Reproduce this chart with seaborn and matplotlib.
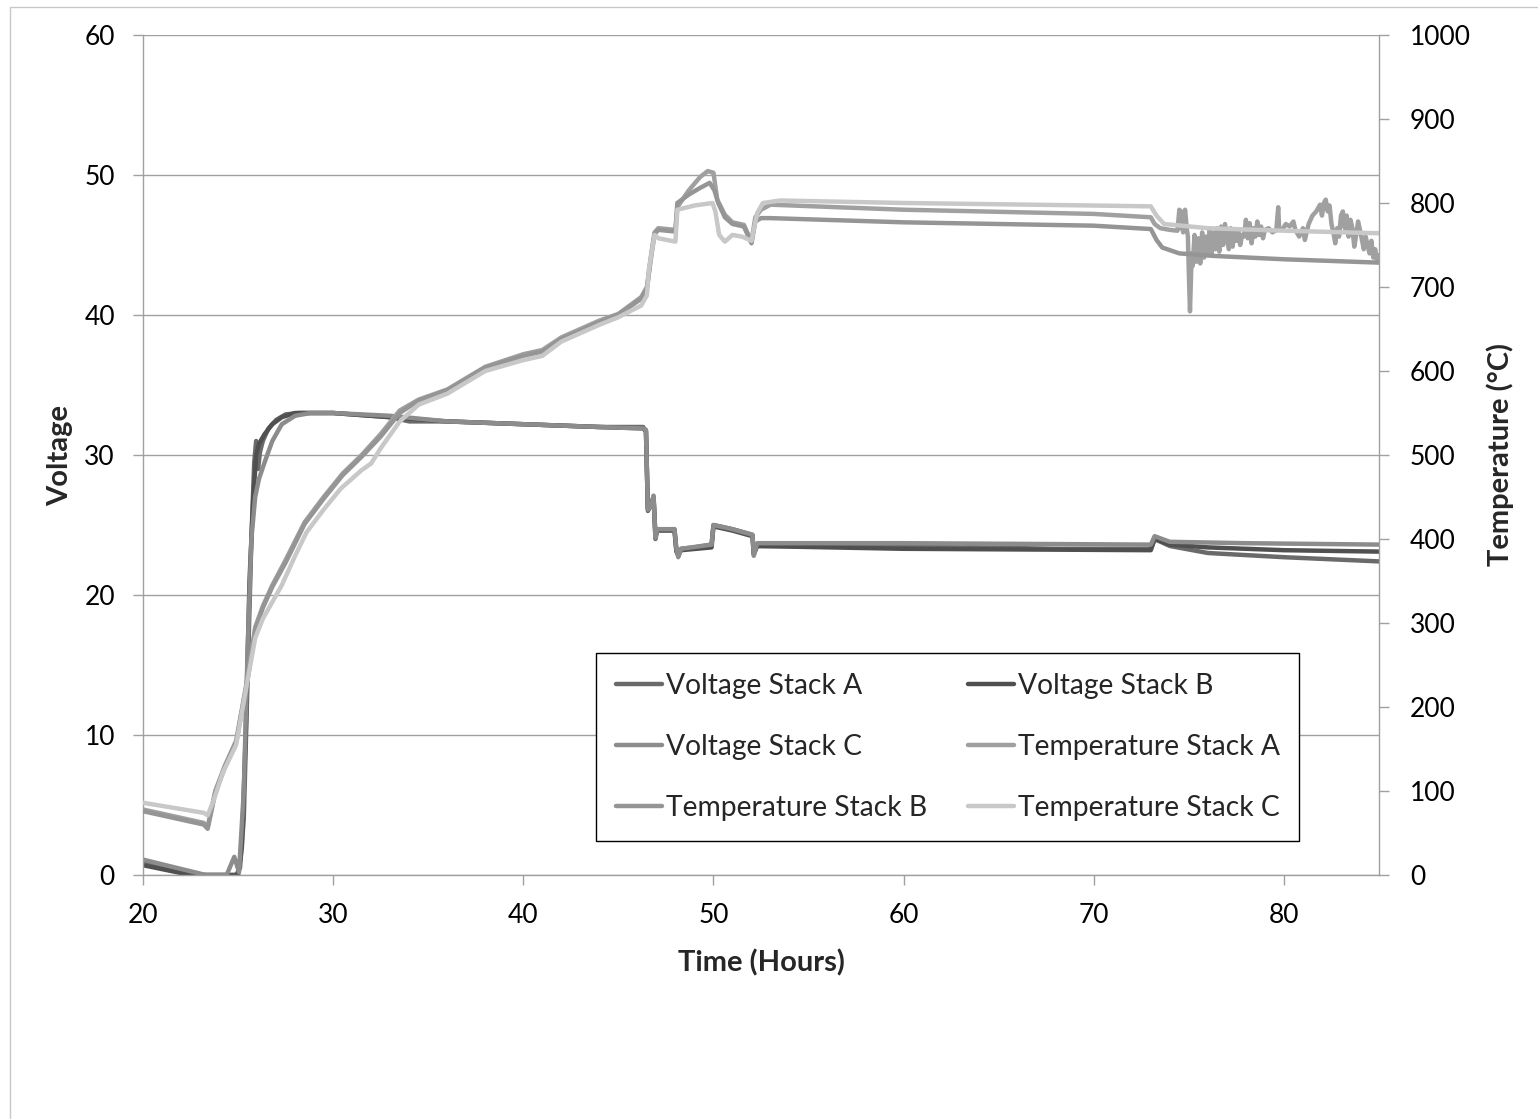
import matplotlib
matplotlib.use("Agg")
import matplotlib.pyplot as plt
from matplotlib.lines import Line2D
import pandas as pd
import seaborn as sns

# ---- stack voltages (V) vs time (h) ----
va_t = [20.0, 23.0, 24.9, 25.1, 25.3, 25.5, 25.7, 25.85, 25.95, 26.05, 26.15, 26.3, 26.6, 27.0, 27.5, 28.2,
        30.0, 32.0, 33.0, 34.0, 36.0, 40.0, 44.0, 46.3, 46.45, 46.55, 46.75, 46.85, 46.95, 47.05, 47.95,
        48.05, 48.15, 48.3, 49.0, 49.9, 50.0, 51.0, 52.05, 52.12, 52.3, 55.0, 63.3, 63.5, 64.0, 68.0,
        73.0, 73.2, 74.0, 76.0, 80.0, 85.0]
va_v = [1.0, 0.0, 0.0, 0.5, 4.0, 14.0, 24.0, 29.5, 31.0, 29.0, 30.2, 31.0, 31.9, 32.5, 32.9, 33.0,
        33.0, 32.8, 32.7, 32.4, 32.4, 32.2, 32.0, 32.0, 31.7, 26.0, 26.5, 27.0, 24.0, 24.7, 24.7,
        23.2, 22.8, 23.3, 23.4, 23.6, 25.0, 24.7, 24.3, 22.9, 23.5, 23.5, 23.4, 23.6, 23.4, 23.3,
        23.3, 24.0, 23.5, 23.0, 22.7, 22.4]

vb_t = [20.0, 22.5, 25.0, 25.2, 25.4, 25.6, 25.8, 25.95, 26.1, 26.4, 26.8, 27.3, 28.0, 30.0, 33.0, 36.0,
        40.0, 44.0, 46.3, 46.45, 46.55, 46.75, 46.85, 46.95, 47.05, 47.95, 48.05, 48.15, 48.3, 49.9,
        50.0, 51.0, 52.05, 52.12, 52.3, 60.0, 73.0, 73.2, 74.0, 76.0, 80.0, 85.0]
vb_v = [0.7, 0.0, 0.0, 2.0, 10.0, 21.0, 27.0, 30.0, 30.8, 31.5, 32.2, 32.7, 33.0, 33.0, 32.7, 32.4,
        32.2, 32.0, 31.9, 31.7, 26.2, 26.6, 27.0, 24.2, 24.6, 24.6, 23.1, 22.9, 23.2, 23.4,
        24.9, 24.6, 24.2, 23.0, 23.5, 23.3, 23.2, 24.0, 23.6, 23.4, 23.2, 23.1]

vc_t = [20.0, 23.3, 24.4, 24.8, 25.05, 25.3, 25.5, 25.7, 25.9, 26.1, 26.4, 26.8, 27.3, 28.0, 28.8, 30.0,
        33.0, 36.0, 40.0, 44.0, 46.3, 46.45, 46.55, 46.75, 46.85, 46.95, 47.05, 47.95, 48.05, 48.15,
        48.3, 49.9, 50.0, 51.0, 52.05, 52.12, 52.3, 60.0, 73.0, 73.2, 74.0, 78.0, 85.0]
vc_v = [1.1, 0.0, 0.0, 1.3, 0.2, 6.0, 16.0, 24.0, 27.0, 28.3, 29.5, 31.0, 32.2, 32.8, 33.0, 33.0,
        32.8, 32.4, 32.2, 32.0, 31.9, 31.8, 26.1, 26.5, 27.1, 24.1, 24.7, 24.7, 23.3, 22.7,
        23.3, 23.6, 25.0, 24.7, 24.3, 22.8, 23.7, 23.7, 23.6, 24.2, 23.8, 23.7, 23.6]

# ---- stack temperatures (°C) vs time (h) ----
ta_t = [20.0, 23.2, 23.4, 23.8, 24.3, 24.9, 25.5, 25.9, 26.3, 26.8, 27.5, 28.5, 29.5, 30.5, 31.5, 32.5,
        33.5, 34.5, 36.0, 38.0, 40.0, 41.0, 42.0, 44.0, 45.0, 46.2, 46.5, 46.7, 46.9, 47.1, 48.0, 48.1,
        48.7, 49.3, 49.7, 50.0, 50.2, 50.6, 51.0, 51.6, 52.0, 52.2, 52.5, 53.0, 60.0, 70.0, 73.0, 73.2,
        73.5, 74.0, 74.4,
        74.5, 74.55, 74.6, 74.7, 74.8, 74.9, 74.95, 75.02, 75.06, 75.1, 75.15, 75.2, 75.3, 75.4, 75.5,
        75.6, 75.7, 75.8, 75.9, 76.0, 76.1, 76.2, 76.3, 76.4, 76.5, 76.6, 76.7, 76.8, 76.9, 77.0, 77.1,
        77.2, 77.3, 77.4, 77.5, 77.6, 77.7, 77.8, 77.9, 78.0, 78.1, 78.2, 78.3, 78.4, 78.5, 78.6, 78.7,
        78.8, 78.9, 79.0, 79.2, 79.4, 79.6, 79.7, 79.75, 79.9, 80.1, 80.3, 80.5, 80.6, 80.8, 81.0, 81.1,
        81.3, 81.5, 81.7, 81.9, 82.0, 82.1, 82.2, 82.3, 82.4, 82.5, 82.6, 82.7, 82.8, 82.9, 83.0, 83.1,
        83.2, 83.3, 83.4, 83.5, 83.6, 83.7, 83.8, 83.9, 84.0, 84.2, 84.3, 84.5, 84.6, 84.7, 84.8, 84.9,
        85.0]
ta_T = [78, 62, 57, 100, 130, 160, 235, 295, 320, 345, 375, 420, 450, 478, 500, 525,
        553, 566, 578, 605, 620, 625, 640, 660, 668, 688, 700, 735, 765, 770, 768, 795,
        815, 831, 838, 836, 804, 786, 777, 774, 754, 783, 792, 798, 792, 787, 783, 775,
        770, 768, 767,
        792, 770, 790, 765, 792, 768, 760, 700, 671, 700, 740, 725, 762, 730, 758,
        728, 765, 735, 760, 740, 768, 738, 765, 745, 770, 742, 772, 750, 775, 760, 745,
        770, 748, 765, 755, 768, 750, 762, 760, 780, 758, 776, 752, 770, 760, 778, 762,
        772, 758, 768, 770, 765, 768, 795, 770, 768, 775, 772, 778, 768, 760, 770, 756,
        775, 785, 790, 798, 785, 800, 804, 790, 797, 775, 765, 752, 770, 760, 785, 790,
        770, 785, 760, 780, 770, 748, 762, 778, 768, 745, 760, 740, 755, 735, 745, 730,
        738]

tb_t = [20.0, 23.2, 23.4, 23.8, 24.3, 24.9, 25.5, 25.9, 26.3, 26.8, 27.5, 28.5, 29.5, 30.5, 31.5, 32.5,
        33.5, 34.5, 36.0, 38.0, 40.0, 41.0, 42.0, 44.0, 45.0, 46.2, 46.5, 46.7, 46.9, 47.1, 48.0, 48.1,
        48.7, 49.3, 49.8, 50.05, 50.25, 50.6, 51.0, 51.6, 52.0, 52.2, 52.5, 53.0, 60.0, 70.0, 73.0, 73.3,
        73.6, 74.5, 76.3, 80.0, 85.0]
tb_T = [76, 60, 55, 98, 128, 158, 233, 292, 318, 343, 372, 418, 448, 476, 498, 522,
        550, 565, 577, 604, 618, 623, 638, 658, 667, 686, 698, 732, 763, 768, 766, 800,
        810, 818, 824, 815, 800, 783, 775, 772, 752, 778, 782, 782, 777, 773, 769, 756,
        747, 740, 737, 733, 729]

tc_t = [20.0, 23.2, 23.4, 23.7, 24.2, 24.9, 25.5, 25.9, 26.3, 26.8, 27.3, 28.0, 28.6, 29.5, 30.4, 31.5,
        32.0, 32.5, 33.5, 34.5, 36.0, 38.0, 40.0, 41.0, 42.0, 44.0, 45.0, 46.2, 46.5, 46.6, 46.9, 47.1,
        48.0, 48.1, 49.0, 49.95, 50.1, 50.3, 50.6, 51.0, 51.5, 52.0, 52.3, 52.6, 53.5, 60.0, 70.0, 73.0,
        73.3, 73.7, 76.0, 80.0, 85.0]
tc_T = [86, 74, 71, 88, 122, 155, 232, 282, 305, 325, 345, 380, 408, 435, 460, 482,
        490, 508, 540, 560, 573, 600, 613, 618, 635, 655, 664, 678, 690, 720, 762, 758,
        754, 792, 797, 800, 790, 762, 754, 762, 760, 755, 788, 800, 803, 800, 797, 796,
        785, 775, 770, 767, 764]

labels = ["Voltage Stack A", "Voltage Stack B", "Voltage Stack C",
          "Temperature Stack A", "Temperature Stack B", "Temperature Stack C"]
colors = ["#6a6a6a", "#505050", "#8c8c8c", "#a0a0a0", "#959595", "#c8c8c8"]

sns.set_theme(style="white")
plt.rcParams["font.family"] = ["Lato", "DejaVu Sans"]

W, H = 1538, 1119
fig = plt.figure(figsize=(W / 100, H / 100), dpi=100)
ax = fig.add_axes([143 / W, 1 - 875 / H, 1236 / W, 840 / H])
ax2 = ax.twinx()

grid_c = "#a0a0a0"
lw = 3.2
line_kw = dict(estimator=None, sort=False, legend=False, linewidth=lw)

volt = [(va_t, va_v), (vb_t, vb_v), (vc_t, vc_v)]
temp = [(ta_t, ta_T), (tb_t, tb_T), (tc_t, tc_T)]

handles = {}
for (t, v), lab, col in zip(volt, labels[:3], colors[:3]):
    df = pd.DataFrame({"t": t, "v": v})
    sns.lineplot(data=df, x="t", y="v", ax=ax, color=col, **line_kw)
    ln = ax.get_lines()[-1]
    ln.set_solid_joinstyle("round")
    ln.set_solid_capstyle("round")
    handles[lab] = ln
for (t, v), lab, col in zip(temp, labels[3:], colors[3:]):
    df = pd.DataFrame({"t": t, "v": v})
    sns.lineplot(data=df, x="t", y="v", ax=ax2, color=col, **line_kw)
    ln = ax2.get_lines()[-1]
    ln.set_solid_joinstyle("round")
    ln.set_solid_capstyle("round")
    handles[lab] = ln

# axes ranges and ticks
ax.set_xlim(20, 85)
ax.set_ylim(0, 60)
ax2.set_ylim(0, 1000)
ax.set_xticks(range(20, 81, 10))
ax.set_yticks(range(0, 61, 10))
ax2.set_yticks(range(0, 1001, 100))

ax.yaxis.grid(True, color=grid_c, linewidth=1.0)
ax.xaxis.grid(False)
ax2.grid(False)

for s in ["top", "right"]:
    ax.spines[s].set_visible(False)
for s in ["top", "left", "bottom"]:
    ax2.spines[s].set_visible(False)
for sp in [ax.spines["left"], ax.spines["bottom"], ax2.spines["right"]]:
    sp.set_color(grid_c)
    sp.set_linewidth(1.0)

fs = 19
fs_lab = 21
fs_leg = 20.3
ax.tick_params(axis="y", direction="out", length=7.2, width=1.0, color=grid_c,
               labelsize=fs, labelcolor="black", pad=13, left=True)
ax.tick_params(axis="x", direction="out", length=7.2, width=1.0, color=grid_c,
               labelsize=fs, labelcolor="black", pad=13, bottom=True)
ax2.tick_params(axis="y", direction="out", length=7.2, width=1.0, color=grid_c,
                labelsize=fs, labelcolor="black", pad=15, right=True)

ax.set_xlabel("Time (Hours)", fontsize=fs_lab, fontweight="bold", va="center")
ax.xaxis.set_label_coords(0.5, (875 - 963) / 840)
ax.set_ylabel("Voltage", fontsize=fs_lab, fontweight="bold", va="center", ha="center")
ax.yaxis.set_label_coords((60 - 143) / 1236, 0.5)
ax2.set_ylabel("Temperature (°C)", fontsize=fs_lab, fontweight="bold", rotation=90,
               va="center", ha="center")
ax2.yaxis.set_label_coords((1500 - 143) / 1236, 0.5)

# legend: row-wise order in two columns
order = ["Voltage Stack A", "Voltage Stack C", "Temperature Stack B",
         "Voltage Stack B", "Temperature Stack A", "Temperature Stack C"]
leg = ax2.legend([handles[k] for k in order], order, ncol=2, loc="upper left",
                 bbox_to_anchor=(596 / W, 1 - 653 / H), bbox_transform=fig.transFigure,
                 borderaxespad=0, fontsize=fs_leg, frameon=True, fancybox=False,
                 framealpha=1, edgecolor="black", borderpad=0.70, labelspacing=1.25,
                 handlelength=1.63, handletextpad=0.14, columnspacing=1.45)
leg.get_frame().set_linewidth(1.0)

# chart area border
fig.add_artist(Line2D([10 / W, 1.0], [1 - 7 / H, 1 - 7 / H], transform=fig.transFigure,
                      color="#c8c8c8", linewidth=1.0))
fig.add_artist(Line2D([10 / W, 10 / W], [0.0, 1 - 7 / H], transform=fig.transFigure,
                      color="#c8c8c8", linewidth=1.0))

fig.savefig("out.png", dpi=100, facecolor="white")
